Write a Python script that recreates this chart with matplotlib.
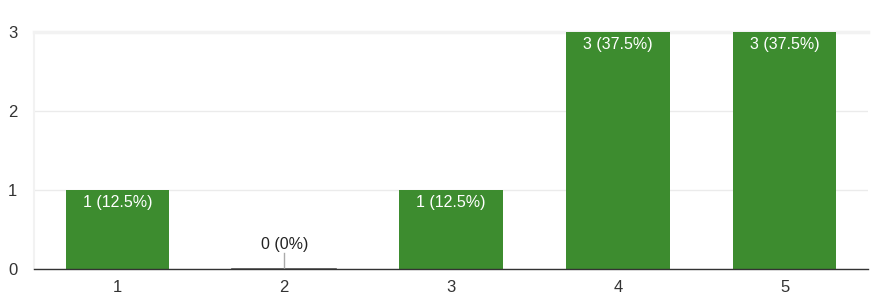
import matplotlib
matplotlib.use("Agg")
import matplotlib.pyplot as plt

categories = ["1", "2", "3", "4", "5"]
counts = [1, 0, 1, 3, 3]
labels = ["1 (12.5%)", "0 (0%)", "1 (12.5%)", "3 (37.5%)", "3 (37.5%)"]
y_ticks = [0, 1, 2, 3]

plt.rcParams["font.family"] = ["Liberation Sans", "DejaVu Sans"]

fig = plt.figure(figsize=(8.73, 3.07), dpi=100)
ax = fig.add_axes([34 / 873, 1 - 269 / 307, 834 / 873, 237 / 307])

x = list(range(len(categories)))
green = "#3d8c2f"
ax.bar(x, counts, width=0.62, color=green, zorder=3)

for xi, c, lab in zip(x, counts, labels):
    if c > 0:
        ax.text(xi, c - 0.06, lab, ha="center", va="top", color="white", fontsize=11.5, zorder=4)
    else:
        # zero bar: thin base line plus a short leader to the label
        ax.plot([xi - 0.31, xi + 0.31], [0, 0], color="#555555", lw=1.2, zorder=4)
        ax.plot([xi, xi], [0, 0.2], color="#aaaaaa", lw=1, zorder=4)
        ax.text(xi, 0.22, lab, ha="center", va="bottom", color="#222222", fontsize=11.5, zorder=4)

ax.set_xlim(-0.5, len(categories) - 0.5)
ax.set_ylim(0, 3)
ax.set_xticks(x)
ax.set_xticklabels(categories)
ax.set_yticks(y_ticks)
ax.tick_params(axis="both", length=0, labelsize=12, labelcolor="#333333")
ax.tick_params(axis="x", pad=8)
ax.tick_params(axis="y", pad=12)

ax.grid(axis="y", color="#ebebeb", lw=1, zorder=0)
ax.spines["right"].set_visible(False)
ax.spines["top"].set_color("#f2f2f2")
ax.spines["top"].set_linewidth(2.5)
ax.spines["left"].set_color("#f2f2f2")
ax.spines["left"].set_linewidth(1.5)
ax.spines["bottom"].set_color("#333333")
ax.spines["bottom"].set_linewidth(1)
ax.spines["bottom"].set_zorder(5)

fig.savefig("out.png", dpi=100)
